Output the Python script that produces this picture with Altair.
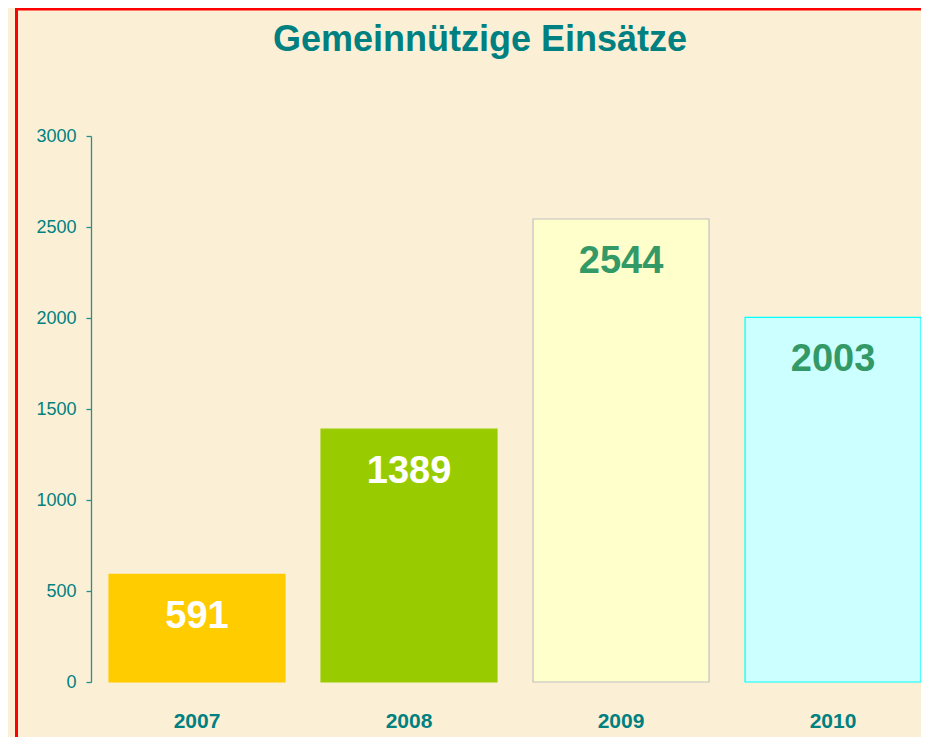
import altair as alt
import pandas as pd

years = ["2007", "2008", "2009", "2010"]
values = [591, 1389, 2544, 2003]
fills = ["#FFCC00", "#99CC00", "#FFFFCC", "#CCFFFF"]
strokes = ["#FFCC00", "#99CC00", "#C0C0C0", "#00FFFF"]
label_colors = ["#FFFFFF", "#FFFFFF", "#339966", "#339966"]
y_ticks = [0, 500, 1000, 1500, 2000, 2500, 3000]

df = pd.DataFrame({"year": years, "value": values, "fill": fills,
                   "stroke": strokes, "lc": label_colors})

TEAL = "#008080"
W, H = 830, 546

x = alt.X("year:N", sort=years,
          scale=alt.Scale(paddingInner=0.17, paddingOuter=0.0425, align=1),
          axis=alt.Axis(title=None, labelAngle=0, domain=False, ticks=False,
                        labelFont="Liberation Sans", labelFontSize=21,
                        labelFontWeight="bold", labelColor=TEAL, labelPadding=28))
y = alt.Y("value:Q", scale=alt.Scale(domain=[0, 3000], nice=False),
          axis=alt.Axis(title=None, values=y_ticks, grid=False, format="d",
                        domainColor="#2A8C8C", domainWidth=1.3,
                        tickColor="#2A8C8C", tickSize=5, tickWidth=1.3,
                        labelFont="Liberation Sans", labelFontSize=18,
                        labelColor=TEAL, labelPadding=10))

bars = alt.Chart(df).mark_bar(strokeWidth=1.2).encode(
    x=x, y=y,
    fill=alt.Fill("fill:N", scale=None),
    stroke=alt.Stroke("stroke:N", scale=None),
)

labels = alt.Chart(df).mark_text(
    baseline="alphabetic", dy=54, font="Liberation Sans",
    fontSize=38, fontWeight="bold"
).encode(
    x=alt.X("year:N", sort=years), y="value:Q",
    text="value:Q",
    color=alt.Color("lc:N", scale=None),
)

title = alt.Chart(pd.DataFrame({"t": ["Gemeinnützige Einsätze"]})).mark_text(
    font="Liberation Sans", fontSize=36, fontWeight="bold", color=TEAL,
    baseline="alphabetic", align="center"
).encode(text="t:N", x=alt.value(480 - 91), y=alt.value(51 - 136))

border_top = alt.Chart(pd.DataFrame({"a": [0]})).mark_rule(
    color="#FF0000", strokeWidth=3
).encode(x=alt.value(-75), x2=alt.value(W + 20), y=alt.value(-127))

border_left = alt.Chart(pd.DataFrame({"a": [0]})).mark_rule(
    color="#FF0000", strokeWidth=3
).encode(x=alt.value(-74.5), y=alt.value(-128.5), y2=alt.value(H + 70))

chart = alt.layer(bars, labels, title, border_top, border_left).properties(
    width=W, height=H,
    autosize=alt.AutoSizeParams(type="none"),
    padding={"left": 83, "top": 128, "right": 0, "bottom": 55},
    background="#FBF0D6",
).configure_view(stroke=None)

chart.save("out.html", embed_options={"renderer": "svg", "actions": False})
